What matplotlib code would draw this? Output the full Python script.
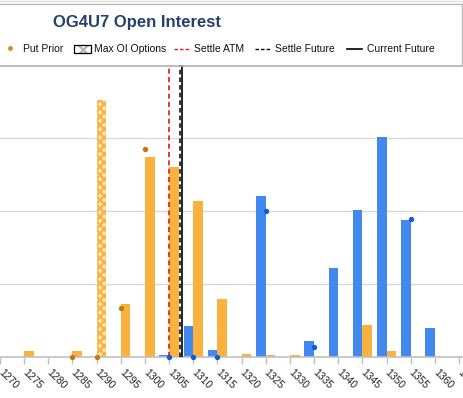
import matplotlib
matplotlib.use('Agg')

import numpy as np
from matplotlib import pyplot as plt
from matplotlib.lines import Line2D
from matplotlib.patches import Rectangle

plt.rcParams['font.family'] = ['Liberation Sans', 'DejaVu Sans']
plt.rcParams['hatch.linewidth'] = 1.6

# open interest per strike (calls in blue, puts in orange)
strikes = [1275, 1280, 1285, 1290, 1295, 1300, 1305, 1310, 1315,
           1320, 1325, 1330, 1335, 1340, 1345, 1350, 1355, 1360]
call_oi = [0, 0, 0, 0, 0, 0, 30, 420, 100,
           0, 2200, 0, 220, 1220, 2010, 3010, 1880, 400]
put_oi = [80, 0, 80, 3520, 730, 2740, 2600, 2140, 790,
          40, 30, 30, 0, 0, 440, 80, 0, 0]
max_oi_strike = 1290

put_prior_strikes = [1285, 1290, 1295, 1300]
put_prior = [0, 0, 670, 2850]
call_prior_strikes = [1305, 1310, 1315, 1325, 1335, 1355]
call_prior = [0, 0, 0, 2000, 140, 1890]

settle_atm = 1305
settle_future = 1307.2
current_future = 1307.6

tick_values = list(range(1270, 1370, 5))

blue = '#4189ee'
orange = '#fab23e'
W, H = 463, 398

fig = plt.figure(figsize=(W / 100, H / 100), dpi=100)
ax = fig.add_axes([0, 41 / H, 1, 292 / H])

bars_put = ax.bar(strikes, put_oi, width=2.0, align='edge', color=orange, zorder=2)
ax.bar(strikes, call_oi, width=-2.0, align='edge', color=blue, zorder=2)
for b, s in zip(bars_put, strikes):
    if s == max_oi_strike:
        # max OI bar: orange lattice with white diamonds
        b.set_facecolor('#fde3b8')
        b.set_edgecolor(orange)
        b.set_hatch('xxxx')
        b.set_linewidth(0)

ax.scatter(put_prior_strikes, put_prior, s=8, color='#c5780c', zorder=4, clip_on=False)
ax.scatter(call_prior_strikes, call_prior, s=8, color='#0b5fd8', zorder=4, clip_on=False)

ax.axvline(settle_atm, color='#e8141c', lw=1.2, ls=(0, (3, 2)), zorder=3)
ax.axvline(settle_future, color='black', lw=1.1, ls=(0, (3, 2)), zorder=3)
ax.axvline(current_future, color='black', lw=1.2, zorder=3)

ax.set_xlim(1270.25, 1365.8)
ax.set_ylim(0, 4000)
ax.set_yticks([1000, 2000, 3000])
ax.yaxis.grid(True, color='#d9d9d9', lw=1.0)
ax.set_axisbelow(True)
ax.tick_params(axis='y', left=False, labelleft=False)
for sp in ['left', 'right', 'top']:
    ax.spines[sp].set_visible(False)
ax.spines['bottom'].set_color('#c0c0c0')
ax.spines['bottom'].set_linewidth(1.2)

ax.set_xticks(tick_values)
ax.set_xticklabels([str(t) for t in tick_values], rotation=-45, ha='left',
                   va='center', rotation_mode='anchor', fontsize=7.5, color='#222222')
ax.tick_params(axis='x', length=5, color='#c0c0c0', width=1, pad=5)

# frame lines around the header
fig.add_artist(Line2D([0, 1], [1 - 1 / H, 1 - 1 / H], color='#dddddd', lw=1))
fig.add_artist(Line2D([0, 1], [1 - 4 / H, 1 - 4 / H], color='#b8b8b8', lw=1))
fig.add_artist(Line2D([462 / W, 462 / W], [1 - 4 / H, 1 - 65 / H], color='#b8b8b8', lw=1))
fig.add_artist(Line2D([0, 1], [1 - 65.5 / H, 1 - 65.5 / H], color='#b0b0b0', lw=1.2))

fig.text(53 / W, 1 - 23 / H, 'OG4U7 Open Interest', fontsize=12, fontweight='bold',
         color='#27406f', ha='left', va='center')

# legend
ly = 1 - 49 / H
fs = 7.5
fig.add_artist(Line2D([10 / W], [ly + 1 / H], marker='o', ms=2.5, color='#d98a1a', lw=0))
fig.text(23 / W, ly, 'Put Prior', fontsize=fs, va='center', color='#111111')
fig.add_artist(Rectangle((74 / W, 1 - 53 / H), 17 / W, 8 / H, transform=fig.transFigure,
                         facecolor='white', edgecolor='#b5b5b5', lw=0, hatch='xx'))
fig.add_artist(Rectangle((74 / W, 1 - 53 / H), 17 / W, 8 / H, transform=fig.transFigure,
                         facecolor='none', edgecolor='black', lw=0.9))
fig.text(94 / W, ly, 'Max OI Options', fontsize=fs, va='center', color='#111111')
fig.add_artist(Line2D([174 / W, 189 / W], [ly, ly], color='#e8141c', lw=1.0, ls=(0, (2.5, 1.5))))
fig.text(194 / W, ly, 'Settle ATM', fontsize=fs, va='center', color='#111111')
fig.add_artist(Line2D([255 / W, 270 / W], [ly, ly], color='black', lw=1.0, ls=(0, (2.5, 1.5))))
fig.text(275 / W, ly, 'Settle Future', fontsize=fs, va='center', color='#111111')
fig.add_artist(Line2D([347 / W, 362 / W], [ly, ly], color='black', lw=1.2))
fig.text(367 / W, ly, 'Current Future', fontsize=fs, va='center', color='#111111')

plt.savefig('out.png', dpi=100)
